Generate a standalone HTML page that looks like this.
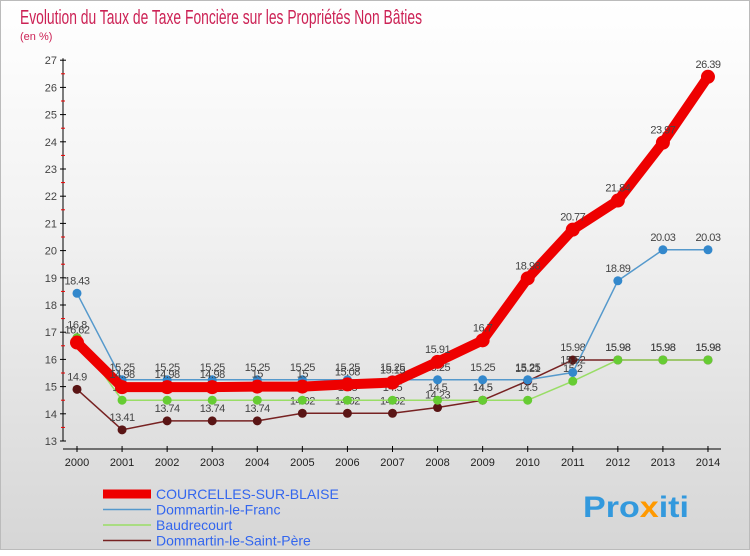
<!DOCTYPE html>
<html><head><meta charset="utf-8"><style>
body{margin:0;width:750px;height:550px;overflow:hidden;font-family:"Liberation Sans",sans-serif}
#c{position:absolute;left:0;top:0;width:748px;height:548px;border:1px solid #bbb;background:linear-gradient(#fff 0%,#f2f2f2 40%,#d6d6d6 100%)}
</style></head><body>
<div id="c">
<svg id="s" width="750" height="550" xmlns="http://www.w3.org/2000/svg">
<text x="19" y="23" font-size="20" fill="#cc2255" textLength="402" lengthAdjust="spacingAndGlyphs">Evolution du Taux de Taxe Foncière sur les Propriétés Non Bâties</text>
<text x="19" y="39" font-size="11" fill="#cc2255">(en %)</text>
<g id="axes"></g><g id="series"></g><g id="legend"></g>
<text x="582" y="516" font-size="30" font-weight="bold" fill="#3399dd" textLength="106" lengthAdjust="spacingAndGlyphs">Pro<tspan fill="#ff9900">x</tspan>iti</text>
</svg></div>
<script>
const years=[2000,2001,2002,2003,2004,2005,2006,2007,2008,2009,2010,2011,2012,2013,2014];
const yTicks=[13,14,15,16,17,18,19,20,21,22,23,24,25,26,27];
const courcelles=[16.62,14.98,14.98,14.98,15,15,15.08,15.15,15.91,16.7,18.98,20.77,21.84,23.97,26.39];
const dommartinFranc=[18.43,15.25,15.25,15.25,15.25,15.25,15.25,15.25,15.25,15.25,15.25,15.52,18.89,20.03,20.03];
const baudrecourt=[16.8,14.5,14.5,14.5,14.5,14.5,14.5,14.5,14.5,14.5,14.5,15.2,15.98,15.98,15.98];
const dommartinStPere=[14.9,13.41,13.74,13.74,13.74,14.02,14.02,14.02,14.23,14.5,15.21,15.98,15.98,15.98,15.98];
const seriesNames=["COURCELLES-SUR-BLAISE","Dommartin-le-Franc","Baudrecourt","Dommartin-le-Saint-Père"];
const NS="http://www.w3.org/2000/svg";
const X=i=>76+i*45.07, Y=v=>440-(v-13)*27.2;
function mk(t,a,p){const e=document.createElementNS(NS,t);for(const k in a)e.setAttribute(k,a[k]);p.appendChild(e);return e;}
const ax=document.getElementById('axes');
let l=mk('line',{x1:62,y1:Y(27)-2,x2:62,y2:Y(13),stroke:'#000'},ax);


yTicks.forEach(v=>{
 mk('line',{x1:59,y1:Y(v),x2:65,y2:Y(v),stroke:'#000'},ax);
 if(v<27) mk('line',{x1:60,y1:Y(v+0.5),x2:64,y2:Y(v+0.5),stroke:'#e00'},ax);
 const t=mk('text',{x:56,y:Y(v)+4,'font-size':11,fill:'#444','text-anchor':'end'},ax);t.textContent=v;
 
 
});
l=mk('line',{x1:62,y1:448,x2:720,y2:448,stroke:'#000'},ax);


years.forEach((y,i)=>{
 mk('line',{x1:X(i),y1:445,x2:X(i),y2:451,stroke:'#000'},ax);
 const t=mk('text',{x:X(i),y:465,'font-size':11,fill:'#222','text-anchor':'middle'},ax);t.textContent=y;
 
 
});
const sg=document.getElementById('series');
const defs=[[dommartinStPere,'#772222','#5a1515',1.5,4.5],[baudrecourt,'#99dd66','#66cc33',1.5,4.5],[dommartinFranc,'#5599cc','#3388cc',1.5,4.5],[courcelles,'#ee0000','#ee0000',10,7]];
const names=['dommartin-saint-pere','baudrecourt','dommartin-franc','courcelles'];
defs.forEach((d,k)=>{
 const g=mk('g',{},sg);
 
 
 const p=mk('polyline',{points:d[0].map((v,i)=>X(i)+','+Y(v)).join(' '),fill:'none',stroke:d[1],'stroke-width':d[3],'stroke-linejoin':'round'},g);
 
 
 d[0].forEach((v,i)=>{
  const c=mk('circle',{cx:X(i),cy:Y(v),r:d[4],fill:d[2]},g);
  
  
  const t=mk('text',{x:X(i),y:Y(v)-9,'font-size':11,fill:'#444','text-anchor':'middle','letter-spacing':'-0.5'},g);t.textContent=v;
  
  
 });
});
const lg=document.getElementById('legend');
const lc=['#ee0000','#5599cc','#99dd66','#772222'],lw=[9,1.5,1.5,1.5];
seriesNames.forEach((n,k)=>{
 const y=493+k*15.5;
 const g=mk('g',{},lg);
 
 
 mk('line',{x1:102,y1:y,x2:150,y2:y,stroke:lc[k],'stroke-width':lw[k]},g);
 const t=mk('text',{x:155,y:y+5,'font-size':14,fill:'#3366ee'},g);t.textContent=n;
});
</script>
</body></html>
